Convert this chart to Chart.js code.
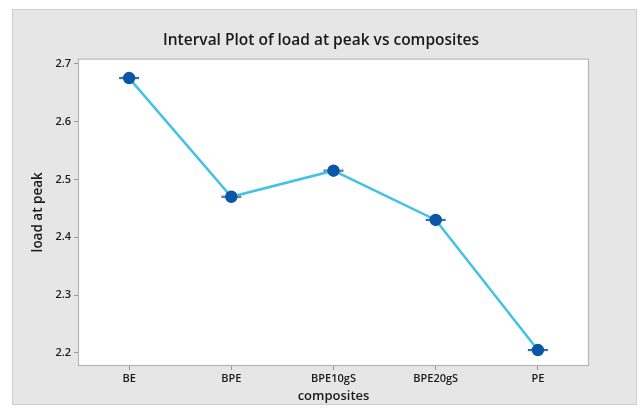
<!DOCTYPE html>
<html>
<head>
<meta charset="utf-8">
<script src="https://cdn.jsdelivr.net/npm/chart.js@4"></script>
<style>
  html, body { margin: 0; padding: 0; background: #fff; }
  #wrap { width: 642px; height: 414px; }
</style>
</head>
<body>
<div id="wrap"><canvas id="intervalChart" width="642" height="414"></canvas></div>
<script>
const composites = ["BE", "BPE", "BPE10gS", "BPE20gS", "PE"];
const loadMeans = [2.675, 2.470, 2.515, 2.430, 2.205];
const ciLower = [2.674, 2.469, 2.514, 2.429, 2.204];
const ciUpper = [2.676, 2.471, 2.516, 2.431, 2.206];
const yTicks = [2.2, 2.3, 2.4, 2.5, 2.6, 2.7];

const FONT = "'Open Sans', 'Noto Sans', sans-serif";

// gray panel behind everything + frame round the plot area
const panel = {
  id: "panel",
  beforeDraw(chart) {
    const ctx = chart.ctx;
    ctx.save();
    ctx.fillStyle = "#ffffff";
    ctx.fillRect(0, 0, chart.width, chart.height);
    ctx.fillStyle = "#e6e6e6";
    ctx.fillRect(12, 9, 625, 396);
    ctx.strokeStyle = "#cfcfcf";
    ctx.lineWidth = 1;
    ctx.strokeRect(12.5, 9.5, 624, 395);
    const a = chart.chartArea;
    ctx.fillStyle = "#ffffff";
    ctx.fillRect(a.left, a.top, a.right - a.left, a.bottom - a.top);
    ctx.restore();
  },
  afterDatasetsDraw(chart) {
    const ctx = chart.ctx;
    const a = chart.chartArea;
    ctx.save();
    ctx.strokeStyle = "#b4b4b4";
    ctx.lineWidth = 1.2;
    ctx.strokeRect(a.left + 0.5, a.top + 0.5, a.right - a.left - 1, a.bottom - a.top - 1);
    ctx.restore();
  }
};

// interval whiskers with caps
const intervals = {
  id: "intervals",
  beforeDatasetsDraw(chart) {
    const ctx = chart.ctx;
    const x = chart.scales.x, y = chart.scales.y;
    ctx.save();
    ctx.strokeStyle = "#1d5fa8";
    ctx.lineWidth = 1;
    composites.forEach((c, i) => {
      const px = x.getPixelForValue(i);
      const lo = y.getPixelForValue(ciLower[i]);
      const hi = y.getPixelForValue(ciUpper[i]);
      ctx.beginPath();
      ctx.moveTo(px, lo); ctx.lineTo(px, hi);
      ctx.moveTo(px - 10, lo); ctx.lineTo(px + 10, lo);
      ctx.moveTo(px - 10, hi); ctx.lineTo(px + 10, hi);
      ctx.stroke();
    });
    ctx.restore();
  }
};

new Chart(document.getElementById("intervalChart"), {
  type: "line",
  data: {
    labels: composites,
    datasets: [{
      label: "load at peak",
      data: loadMeans,
      borderColor: "#42c3e6",
      borderWidth: 2.5,
      pointBackgroundColor: "#0a56a8",
      pointBorderColor: "#0a56a8",
      pointRadius: 5,
      tension: 0
    }]
  },
  options: {
    responsive: false,
    animation: false,
    layout: { padding: 0 },
    plugins: {
      legend: { display: false },
      tooltip: { enabled: false },
      title: {
        display: true,
        text: "Interval Plot of load at peak vs composites",
        color: "#1a1a1a",
        font: { family: FONT, size: 15.5, weight: "600", lineHeight: 1.2 },
        padding: { top: 31, bottom: 9 }
      }
    },
    scales: {
      x: {
        type: "category",
        offset: true,
        grid: { display: true, drawOnChartArea: false, drawTicks: true, tickLength: 4, color: "#9a9a9a", offset: false },
        border: { display: false },
        ticks: { color: "#1a1a1a", font: { family: FONT, size: 11, weight: "600" }, padding: 2, maxRotation: 0 },
        title: {
          display: true, text: "composites", color: "#1a1a1a",
          font: { family: FONT, size: 13, weight: "600" }, padding: { top: 0, bottom: 10 }
        },
        afterFit(scale) { scale.height = 48; }
      },
      y: {
        min: 2.1775,
        max: 2.7087,
        afterBuildTicks(scale) { scale.ticks = yTicks.map(v => ({ value: v })); },
        grid: { display: true, drawOnChartArea: false, drawTicks: true, tickLength: 4, color: "#9a9a9a" },
        border: { display: false },
        ticks: {
          color: "#1a1a1a", font: { family: FONT, size: 11, weight: "600" }, padding: 3,
          callback: v => v.toFixed(1)
        },
        title: {
          display: true, text: "load at peak", color: "#1a1a1a",
          font: { family: FONT, size: 13.5, weight: "600" }, padding: { top: 30, bottom: 0 }
        },
        afterFit(scale) { scale.width = 78; }
      },
      // empty right-hand axis, only reserves the panel margin
      yRight: {
        position: "right",
        display: true,
        grid: { display: false },
        border: { display: false },
        ticks: { display: false },
        afterFit(scale) { scale.width = 53; }
      }
    }
  },
  plugins: [panel, intervals]
});
</script>
</body>
</html>
